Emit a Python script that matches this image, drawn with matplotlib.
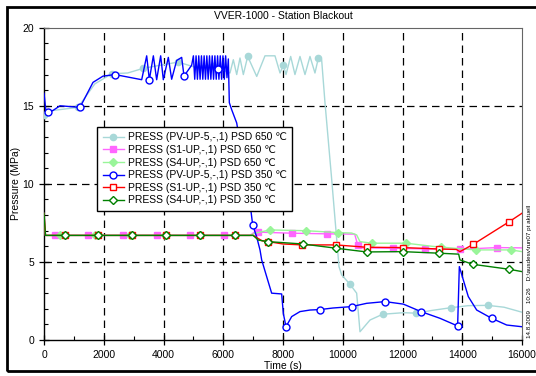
import numpy as np
import matplotlib
matplotlib.use("Agg")
import matplotlib.pyplot as plt
from matplotlib.lines import Line2D
from matplotlib.patches import Rectangle

plt.rcParams['font.family'] = ['Liberation Sans', 'DejaVu Sans']

# ---------------- data ----------------
# PRESS (PV-UP-5,-,1) PSD 650 C
cyan_t = [0, 300, 1138, 1700, 2266, 2800, 3325, 3900, 4496, 5000, 5600, 6225, 6337,
          6450, 6560, 6672, 6818, 7120, 7397, 7731, 7900, 8011, 8100, 8257, 8400,
          8568, 8736, 8903, 9070, 9182, 9293, 9405, 9620, 9874, 9963, 10242, 10465,
          10577, 10912, 11335, 12027, 12441, 13000, 13622, 14200, 14851, 15400, 16000]
cyan_p = [14.4, 14.7, 14.9, 16.4, 17.05, 17.1, 17.4, 17.6, 17.8, 17.5, 17.6, 17.1, 17.95,
          17.0, 18.06, 17.0, 18.16, 16.88, 18.2, 18.2, 17.1, 17.6, 17.0, 18.16, 17.0,
          18.16, 17.0, 18.16, 17.1, 18.05, 17.95, 15.2, 10.5, 4.7, 4.17, 3.57, 3.0,
          0.53, 1.28, 1.65, 1.75, 1.72, 1.9, 2.07, 2.2, 2.22, 2.1, 1.78]
cyan_mk = [0, 1138, 2266, 3325, 4496, 5650, 6818, 8011, 9182, 10242, 11335, 12441,
           13622, 14851]

# PRESS (S1-UP,-,1) PSD 650 C
pink_t = [0, 50, 6900, 7062, 7300, 8310, 9461, 10400, 10500, 10650, 11670, 12752,
          13923, 15172, 16000]
pink_p = [8.1, 6.7, 6.7, 6.94, 6.9, 6.84, 6.8, 6.78, 6.08, 5.9, 5.88, 5.83,
          5.81, 5.92, 5.9]
pink_mk = [368, 1483, 2654, 3771, 4886, 6024, 7175, 8310, 9461, 10520, 11670, 12752,
           13923, 15172]

# PRESS (S4-UP,-,1) PSD 650 C
lgrn_t = [0, 50, 6900, 7062, 7564, 8758, 9850, 10300, 10465, 10577, 10968, 12117,
          13000, 13900, 14460, 15630, 16000]
lgrn_p = [8.1, 6.7, 6.7, 6.84, 7.05, 7.0, 6.88, 6.85, 6.73, 6.3, 6.2, 6.2,
          6.0, 5.85, 5.77, 5.77, 5.66]
lgrn_mk = [544, 1714, 2884, 4054, 5224, 6394, 7564, 8758, 9850, 10968, 12117, 13290,
           14460, 15630]

# PRESS (PV-UP-5,-,1) PSD 350 C
blue_t = [0, 70, 300, 535, 1205, 1640, 1975, 2376, 3270, 3437, 3526, 3660, 3771, 3905,
          3994, 4161, 4273, 4440, 4608, 4686, 4943,
          5000, 5045, 5090, 5135, 5180, 5225, 5270, 5315, 5360, 5405, 5450, 5495,
          5540, 5585, 5630, 5675, 5720, 5765, 5810, 5855, 5900, 5945, 5990, 6035,
          6080, 6125, 6170,
          6203, 6282, 6450, 6895, 6985, 7119, 7230, 7286, 7453, 7620, 7955, 8011,
          8100, 8290, 8568, 8903, 9238, 9673, 10298, 10800, 11414, 12027, 12619,
          13255, 13845, 13902, 14035, 14202, 14483, 14985, 15487, 16000]
blue_p = [15.8, 14.55, 14.7, 15.0, 14.9, 16.5, 16.9, 17.0, 16.67, 18.2, 16.67, 18.2,
          16.67, 18.2, 16.67, 18.1, 16.7, 17.9, 18.1, 16.9, 17.6,
          18.2, 16.7, 18.2, 16.7, 18.2, 16.7, 18.2, 16.7, 18.2, 16.7, 18.2, 16.7,
          18.2, 16.7, 18.2, 16.7, 18.2, 16.7, 18.2, 16.7, 18.2, 16.7, 18.2, 16.7,
          18.2, 16.8, 18.0,
          15.2, 14.75, 13.9, 8.76, 7.37, 6.6, 5.77, 5.13, 4.06, 3.0, 2.95, 1.7,
          0.85, 1.5, 1.82, 1.92, 1.95, 2.05, 2.14, 2.35, 2.46, 2.3, 1.82,
          1.39, 0.9, 4.7, 3.85, 2.78, 1.92, 1.39, 0.96, 0.85]
blue_mk = [145, 1205, 2376, 3526, 4686, 5835, 6985, 8100, 9238, 10298, 11414, 12619,
           13845, 14985]

# PRESS (S1-UP,-,1) PSD 350 C
red_t = [0, 50, 7000, 7300, 7508, 8000, 8645, 9773, 10800, 12006, 13222, 13800,
         13923, 14370, 15575, 16000]
red_p = [8.1, 6.7, 6.7, 6.35, 6.3, 6.15, 6.09, 6.09, 5.94, 5.92, 5.83, 5.8,
         5.66, 6.13, 7.58, 8.12]
red_mk = [703, 1797, 2956, 4073, 5221, 6393, 7508, 8645, 9773, 10800, 12006, 13222,
          14370, 15575]

# PRESS (S4-UP,-,1) PSD 350 C
dgrn_t = [0, 50, 7000, 7173, 7508, 8658, 9773, 10800, 12006, 13222, 13880, 13923,
          14348, 15575, 16000]
dgrn_p = [8.1, 6.7, 6.7, 6.4, 6.3, 6.15, 5.88, 5.64, 5.66, 5.56, 5.5, 5.13,
          4.85, 4.53, 4.38]
dgrn_mk = [703, 1797, 2956, 4073, 5221, 6393, 7508, 8658, 9773, 10800, 12006, 13222,
           14348, 15575]

labels = ["PRESS (PV-UP-5,-,1) PSD 650 \u2103",
          "PRESS (S1-UP,-,1) PSD 650 \u2103",
          "PRESS (S4-UP,-,1) PSD 650 \u2103",
          "PRESS (PV-UP-5,-,1) PSD 350 \u2103",
          "PRESS (S1-UP,-,1) PSD 350 \u2103",
          "PRESS (S4-UP,-,1) PSD 350 \u2103"]

# ---------------- plot ----------------
fig = plt.figure(figsize=(5.36, 3.76), dpi=100)
ax = fig.add_axes([0.0821, 0.0957, 0.8918, 0.8306])

series = [
    (cyan_t, cyan_p, cyan_mk, '#a8d8d8', 'o', '#a8d8d8', 4.5),
    (pink_t, pink_p, pink_mk, '#ff66ff', 's', '#ff66ff', 4.5),
    (lgrn_t, lgrn_p, lgrn_mk, '#99f599', 'D', '#99f599', 4.0),
    (blue_t, blue_p, blue_mk, '#0000ff', 'o', 'white', 5.0),
    (red_t, red_p, red_mk, '#ff0000', 's', 'white', 5.0),
    (dgrn_t, dgrn_p, dgrn_mk, '#008000', 'D', 'white', 4.5),
]

handles = []
for i, (t, p, mk, col, m, fc, ms) in enumerate(series):
    z = 3 + i
    ax.plot(t, p, color=col, lw=1.0, zorder=z)
    ax.plot(mk, np.interp(mk, t, p), ls='none', marker=m, ms=ms, mfc=fc,
            mec=col, mew=1.0, zorder=z)
    handles.append(Line2D([], [], color=col, lw=1.0, marker=m, ms=ms, mfc=fc,
                          mec=col, mew=1.0))

ax.set_xlim(0, 16000)
ax.set_ylim(0, 20)
ax.set_xticks(range(0, 16001, 2000))
ax.set_xticks(range(1000, 16000, 2000), minor=True)
ax.set_yticks([0, 5, 10, 15, 20])
ax.set_yticks([v for v in range(1, 20) if v % 5], minor=True)
ax.tick_params(which='major', direction='inout', length=7, width=0.9, labelsize=7.5,
               top=False, right=False)
ax.tick_params(which='minor', direction='in', length=3, width=0.8,
               top=False, right=False)

for x in range(2000, 16000, 2000):
    ax.axvline(x, color='black', lw=0.9, ls=(0, (6, 4)), zorder=1)
for y in (5, 10, 15):
    ax.axhline(y, color='black', lw=0.9, ls=(0, (6, 4)), zorder=1)

for s in ('left', 'bottom'):
    ax.spines[s].set_linewidth(1.0)
for s in ('top', 'right'):
    ax.spines[s].set_color('#666666')
    ax.spines[s].set_linewidth(0.8)

ax.set_xlabel("Time (s)", fontsize=7.5, labelpad=1)
ax.set_ylabel("Pressure (MPa)", fontsize=7.5, labelpad=1)
ax.set_title("VVER-1000 - Station Blackout", fontsize=7.5, pad=6)

leg = ax.legend(handles, labels, loc='upper left', bbox_to_anchor=(0.10, 0.70),
                fontsize=7.5, frameon=True, fancybox=False, framealpha=1,
                edgecolor='black', handlelength=2.0, handletextpad=0.4,
                labelspacing=0.25, borderpad=0.55)
leg.get_frame().set_linewidth(1.0)
leg.set_zorder(20)

fig.text(0.988, 0.10, "14.8.2009    10:26    D:\\ausdesv\\run07 pt aktuell",
         rotation=90, fontsize=4.5, ha='center', va='bottom')

# outer frame around the whole picture
fig.patches.append(Rectangle((7 / 536, 5 / 376), 1.2, 364 / 376, transform=fig.transFigure,
                             fill=False, edgecolor='black', lw=2.0))

fig.savefig("out.png", dpi=100)
